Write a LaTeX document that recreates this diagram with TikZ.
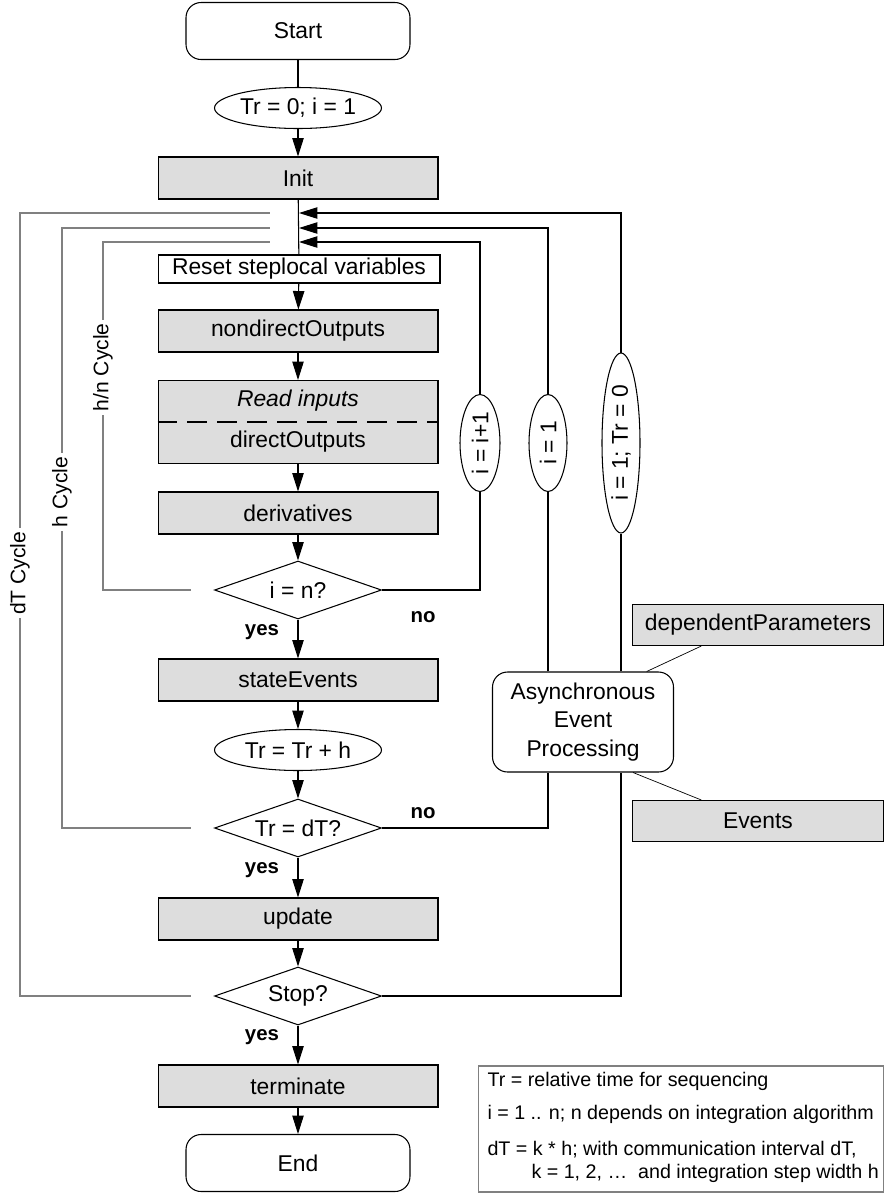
\documentclass[tikz,border=0pt]{standalone}
\usepackage{fontspec}
\setmainfont{Liberation Sans}
\usepackage{tikz}
\usetikzlibrary{arrows.meta,calc,shapes.geometric}
\definecolor{boxgray}{RGB}{221,221,221}
\definecolor{cyclegray}{RGB}{128,128,128}
\tikzset{
    proc/.style={draw, fill=boxgray, minimum width=5.6cm, minimum height=0.84cm, inner sep=0pt},
    term/.style={draw, rounded corners=0.3cm, minimum width=4.48cm, minimum height=1.14cm},
    assign/.style args={#1 and #2}{draw, ellipse, inner sep=0pt, minimum width=#1, minimum height=#2},
    cond/.style={draw, diamond, aspect=2.86, inner sep=0pt, minimum width=3.34cm, minimum height=1.16cm},
    cyc/.style={draw=cyclegray},
    cyclabel/.style={fill=white, rotate=90, inner sep=2pt, font=\fontsize{12}{14}\selectfont},
    answer/.style={font=\bfseries\fontsize{11.6}{14}\selectfont},
    legtext/.style={anchor=west, inner sep=0pt, font=\fontsize{11.2}{13}\selectfont}
}

\begin{document}
\begin{tikzpicture}[x=0.02cm, y=-0.02cm, line width=0.6pt, font=\fontsize{13}{15.6}\selectfont, >={Triangle[length=10.5pt,width=6.5pt]}]
\useasboundingbox (0,0) rectangle (889,1198);
\node[term] (start) at (298,31) {Start};
\node[assign={3.34cm and 0.82cm}] (init0) at (298,108) {Tr = 0; i = 1};
\node[proc] (init) at (298,178) {Init};
\node[draw, fill=white, minimum width=5.64cm, minimum height=0.56cm, inner sep=0pt] (reset) at (299,269) {Reset steplocal variables};
\node[proc] (nondirect) at (298,331) {nondirectOutputs};
\node[proc, minimum height=1.66cm] (direct) at (298,422) {};
\node[font=\itshape\fontsize{13}{15.6}\selectfont] (readin) at (298,401) {Read inputs};
\node (directout) at (298,442) {directOutputs};
\draw[line width=1.5pt, dash pattern=on 0.4cm off 0.2cm] (direct.west) -- (direct.east);
\node[proc] (deriv) at (298,513) {derivatives};
\node[cond] (iton) at (298,590) {i = n?};
\node[proc] (stateev) at (298,680) {stateEvents};
\node[assign={3.34cm and 0.82cm}] (trinc) at (298,750) {Tr = Tr + h};
\node[cond] (trdt) at (298,828) {Tr = dT?};
\node[proc] (update) at (298,919) {update};
\node[cond] (stop) at (298,996) {Stop?};
\node[proc] (terminate) at (298,1086) {terminate};
\node[term] (finish) at (298,1163) {End};

\node[answer] (yes1) at (262,632) {yes};
\node[answer] (no1) at (423,617) {no};
\node[answer] (yes2) at (262,870) {yes};
\node[answer] (no2) at (423,813) {no};
\node[answer] (yes3) at (262,1037) {yes};

\draw (start) -- (init0);
\draw[->] (init0) -- (init);
\draw (init) -- (reset);
\draw[->] (reset) -- (nondirect);
\draw[->] (nondirect) -- (direct);
\draw[->] (direct) -- (deriv);
\draw[->] (deriv) -- (iton);
\draw[->] (iton) -- (stateev);
\draw[->] (stateev) -- (trinc);
\draw[->] (trinc) -- (trdt);
\draw[->] (trdt) -- (update);
\draw[->] (update) -- (stop);
\draw[->] (stop) -- (terminate);
\draw[->] (terminate) -- (finish);

% re-entry points on the main line
\coordinate (joinA) at (299,213);
\coordinate (joinB) at (299,228);
\coordinate (joinC) at (299,242);
\coordinate (dTtop) at (270,213);
\coordinate (htop) at (270,228);
\coordinate (hntop) at (270,242);

\draw[cyc] ([xshift=-0.46cm]stop.west) -- (20,996) -- node[cyclabel, pos=0.54] {dT Cycle} (20,213) -- (dTtop);
\draw[cyc] ([xshift=-0.46cm]trdt.west) -- (62,828) -- node[cyclabel, pos=0.56] {h Cycle} (62,228) -- (htop);
\draw[cyc] ([xshift=-0.46cm]iton.west) -- (103,590) -- node[cyclabel, pos=0.64] {h/n Cycle} (103,242) -- (hntop);

\node[assign={1.94cm and 0.8cm}, rotate=90] (incr) at (480,443) {i = i+1};
\node[assign={1.94cm and 0.76cm}, rotate=90] (reseti) at (548,443) {i = 1};
\node[assign={3.6cm and 0.76cm}, rotate=90] (resetall) at (621,443) {i = 1; Tr = 0};
\node[draw, fill=white, rounded corners=0.3cm, minimum width=3.62cm, minimum height=2cm, align=center, font=\fontsize{13}{16}\selectfont] (async) at (583,722) {Asynchronous\\Event\\Processing};
\node[proc, minimum width=5.02cm, minimum height=0.82cm] (deppar) at (758,625) {dependentParameters};
\node[proc, minimum width=5.02cm, minimum height=0.82cm] (events) at (758,821) {Events};

\draw (iton.east) -| (incr.west);
\draw[->] (incr.east) |- (joinC);
\draw (trdt.east) -| (async.south -| reseti.west);
\draw (async.north -| reseti.west) -- (reseti.west);
\draw[->] (reseti.east) |- (joinB);
\draw (stop.east) -| (async.south -| resetall.west);
\draw (async.north -| resetall.west) -- (resetall.west);
\draw[->] (resetall.east) |- (joinA);
\draw[line width=0.4pt] ($(async.north)!0.7!(async.north east)$) -- ($(deppar.south west)!0.55!(deppar.south)$);
\draw[line width=0.4pt] ($(async.south)!0.55!(async.south east)$) -- ($(events.north west)!0.55!(events.north)$);

\node[draw=cyclegray, minimum width=8.12cm, minimum height=2.52cm, inner sep=0pt] (legend) at (681,1129) {};
\node[legtext] (legtr) at (487,1081) {Tr = relative time for sequencing};
\node[legtext] (legi) at (487,1114) {i = 1 .. n; n depends on integration algorithm};
\node[legtext] (legdt) at (487,1150) {dT = k * h; with communication interval dT,};
\node[legtext] (legk) at (531,1173) {k = 1, 2, …\ \ and integration step width h};
\end{tikzpicture}
\end{document}
